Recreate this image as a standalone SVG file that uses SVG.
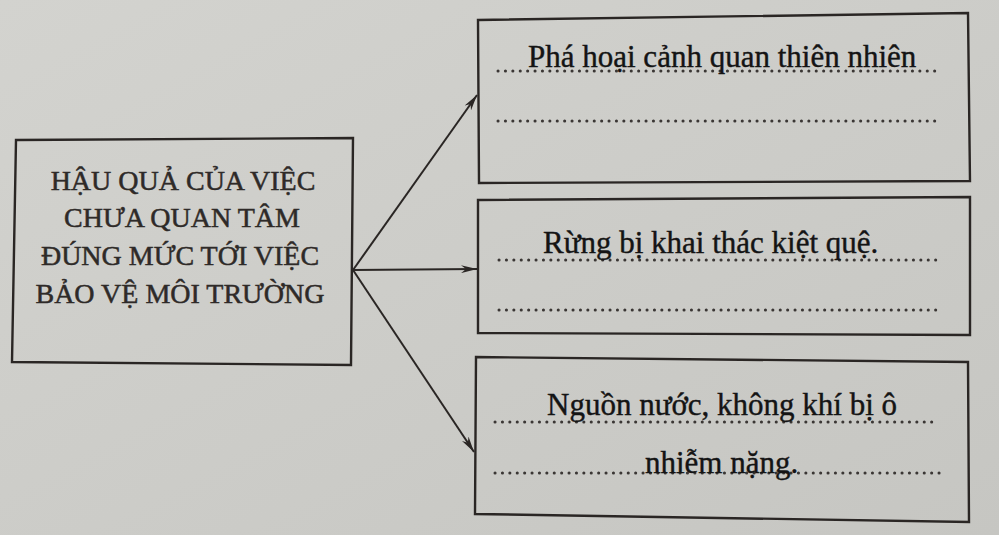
<svg xmlns="http://www.w3.org/2000/svg" width="999" height="535" viewBox="0 0 999 535">
  <defs>
    <linearGradient id="bg" x1="0" y1="0" x2="1" y2="1">
      <stop offset="0" stop-color="#d3d3cf"/>
      <stop offset="1" stop-color="#c6c6c2"/>
    </linearGradient>
    <marker id="arr" viewBox="0 0 16 8" refX="16" refY="4" markerWidth="16" markerHeight="8" markerUnits="userSpaceOnUse" orient="auto">
      <path d="M0,0 L16,4 L0,8 L5,4 z" fill="#2a2624"/>
    </marker>
    <style>
      .box { fill: none; stroke: #2a2624; stroke-width: 2.4; stroke-linejoin: miter; }
      .conn { stroke: #2a2624; stroke-width: 2; fill: none; }
      .dots { stroke: #3a3634; stroke-width: 3; stroke-linecap: round; stroke-dasharray: 0.1 7.3; fill: none; }
      .title { font-family: "Liberation Serif", "Times New Roman", serif; font-size: 28px; fill: #2e2a28; stroke: #2e2a28; stroke-width: 0.5; text-anchor: middle; }
      .ans { font-family: "Liberation Serif", "Times New Roman", serif; font-size: 31px; fill: #141414; stroke: #141414; stroke-width: 0.4; }
    </style>
  </defs>
  <rect x="0" y="0" width="999" height="535" fill="url(#bg)"/>

  <g id="connectors">
    <line class="conn" x1="353" y1="270" x2="477" y2="95" marker-end="url(#arr)"/>
    <line class="conn" x1="353" y1="270" x2="477" y2="269" marker-end="url(#arr)"/>
    <line class="conn" x1="353" y1="270" x2="474" y2="452" marker-end="url(#arr)"/>
  </g>

  <g id="node-main">
    <polygon class="box" points="16,140 353,138 351,365 12,362"/>
    <text class="title" x="183" y="190">HẬU QUẢ CỦA VIỆC</text>
    <text class="title" x="182" y="227">CHƯA QUAN TÂM</text>
    <text class="title" x="180" y="265">ĐÚNG MỨC TỚI VIỆC</text>
    <text class="title" x="180" y="303">BẢO VỆ MÔI TRƯỜNG</text>
  </g>

  <g id="node-1">
    <polygon class="box" points="478,20 968,13 970,181 479,183"/>
    <line class="dots" x1="498" y1="71" x2="940" y2="71"/>
    <line class="dots" x1="498" y1="121" x2="940" y2="121"/>
    <text class="ans" x="528" y="67">Phá hoại cảnh quan thiên nhiên</text>
  </g>

  <g id="node-2">
    <polygon class="box" points="478,200 970,197 970,335 478,333"/>
    <line class="dots" x1="499" y1="260" x2="942" y2="260"/>
    <line class="dots" x1="499" y1="310" x2="942" y2="310"/>
    <text class="ans" x="543" y="253">Rừng bị khai thác kiệt quệ.</text>
  </g>

  <g id="node-3">
    <polygon class="box" points="476,357 968,362 969,522 475,514"/>
    <line class="dots" x1="495" y1="422" x2="938" y2="422"/>
    <line class="dots" x1="495" y1="473" x2="940" y2="473"/>
    <text class="ans" x="547" y="415">Nguồn nước, không khí bị ô</text>
    <text class="ans" x="645" y="473">nhiễm nặng.</text>
  </g>
</svg>
